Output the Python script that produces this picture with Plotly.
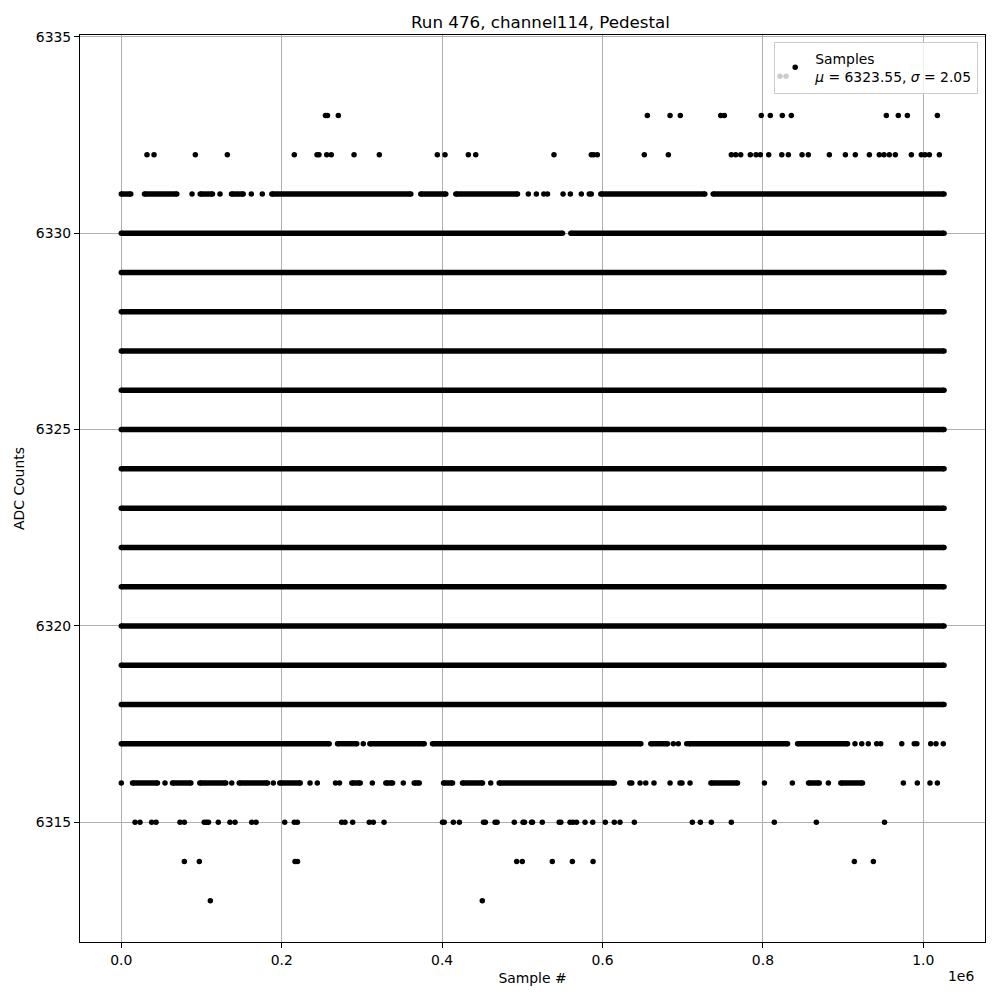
import plotly.graph_objects as go

# ---------------- data (sample index, ADC count) ----------------
N_LAST = 1025800          # last sample index
FULL_LEVELS = [6318, 6319, 6320, 6321, 6322, 6323, 6324, 6325, 6326, 6327, 6328, 6329]

# dense runs of samples: [first, last]
seg_6331 = [[0, 11800], [28900, 69200], [98400, 113700], [137400, 152000],
            [187700, 361000], [373400, 404600], [417100, 494000],
            [597900, 727600], [738000, N_LAST]]
seg_6330 = [[0, 550100], [560500, N_LAST]]
seg_6317 = [[0, 259200], [269600, 293600], [309900, 377700], [388000, 647800],
            [660200, 681100], [708100, 830700], [843200, 905500]]
seg_6316 = [[14000, 45100], [63800, 86700], [97900, 130300], [147000, 182300],
            [197600, 223100], [287400, 297900], [329800, 338200], [365200, 371500],
            [401800, 413000], [425400, 450400], [471200, 614600], [735100, 768300],
            [856900, 870200], [897100, 924200]]

# isolated samples
pts_6334 = [821300, 828800]
pts_6333 = [254600, 257100, 270600, 655900, 684200, 697000, 747400, 751900, 798000,
            809200, 824200, 835400, 953900, 968800, 980100, 1017500]
pts_6332 = [32000, 40800, 92300, 132200, 215700, 244000, 246500, 256100, 261800,
            290200, 321700, 394000, 403600, 432700, 441900, 539500, 586000, 589000,
            593500, 652100, 682100, 760600, 766100, 772300, 784300, 791400, 796800,
            807200, 823500, 831700, 848800, 856600, 882800, 902800, 915200, 932700,
            945100, 951000, 957600, 965100, 985100, 997500, 1002100, 1007500, 1020000]
pts_6331 = [88200, 123100, 162100, 175800, 507500, 517500, 526800, 531400, 550800,
            559900, 573600, 583500, 586000]
pts_6317 = [301700, 688300, 694500, 705000, 914800, 923200, 931400, 941900, 946900,
            973100, 988700, 991900, 1009200, 1015800, 1024900]
pts_6316 = [0, 54500, 137700, 189500, 235300, 244400, 267100, 272100, 313000, 351600,
            460600, 634000, 636500, 646800, 653900, 664200, 684200, 696600, 699100,
            709100, 801800, 836700, 881600, 975100, 992500, 1008300, 1017500]
pts_6315 = [17100, 23300, 37900, 43300, 73200, 78600, 103400, 106200, 108700, 120900,
            135500, 141800, 162600, 168000, 203700, 215700, 219500, 274800, 278900,
            288500, 309200, 314200, 327600, 400500, 402600, 414000, 421500, 451600,
            453900, 466000, 468500, 490000, 500900, 502700, 511500, 512700, 524900,
            546000, 548000, 559500, 563200, 567600, 578200, 587800, 603500, 614700,
            621800, 639700, 712000, 722000, 735700, 760600, 814200, 866600, 951600]
pts_6314 = [78600, 97300, 216600, 219700, 493000, 500000, 537400, 562400, 588200,
            914000, 937700]
pts_6313 = [111000, 450100]

MU, SIGMA = 6323.55, 2.05
X_TICKS = [0, 200000, 400000, 600000, 800000, 1000000]
X_TICKTEXT = ["0.0", "0.2", "0.4", "0.6", "0.8", "1.0"]
Y_TICKS = [6315, 6320, 6325, 6330, 6335]

# ---------------- build traces ----------------
segments = {lvl: [[0, N_LAST]] for lvl in FULL_LEVELS}
segments[6331] = seg_6331
segments[6330] = seg_6330
segments[6317] = seg_6317
segments[6316] = seg_6316

points = {6334: pts_6334, 6333: pts_6333, 6332: pts_6332, 6331: pts_6331,
          6317: pts_6317, 6316: pts_6316, 6315: pts_6315, 6314: pts_6314,
          6313: pts_6313}

MS = 5.5
seg_x, seg_y = [], []
for lvl, segs in segments.items():
    for a, b in segs:
        seg_x += [a, b, None]
        seg_y += [lvl, lvl, None]

px_, py_ = [], []
for lvl, xs in points.items():
    px_ += xs
    py_ += [lvl] * len(xs)

fig = go.Figure()
fig.add_trace(go.Scatter(x=seg_x, y=seg_y, mode="lines+markers",
                         line=dict(color="black", width=MS),
                         marker=dict(color="black", size=MS),
                         connectgaps=False, showlegend=False, hoverinfo="skip"))
fig.add_trace(go.Scatter(x=px_, y=py_, mode="markers",
                         marker=dict(color="black", size=MS),
                         name=f"Samples<br><i>μ</i> = {MU:.2f}, <i>σ</i> = {SIGMA:.2f}",
                         showlegend=True))

axis_common = dict(showline=True, linecolor="black", linewidth=1, mirror=True,
                   ticks="outside", ticklen=5, tickcolor="black", tickwidth=1,
                   showgrid=True, gridcolor="#b0b0b0", gridwidth=0.8,
                   zeroline=False, automargin=False,
                   tickfont=dict(size=13.9, color="black"))

fig.update_layout(
    width=1000, height=1000,
    margin=dict(l=72, r=23, t=27, b=66),
    paper_bgcolor="white", plot_bgcolor="white",
    font=dict(family="DejaVu Sans", size=13.9, color="black"),
    title=dict(text="Run 476, channel114, Pedestal", x=0.5325, xanchor="center",
               y=0.986, yanchor="middle", font=dict(size=16.7)),
    xaxis=dict(range=[-51500, 1076900], tickvals=X_TICKS, ticktext=X_TICKTEXT,
               title=dict(text="Sample #", standoff=6, font=dict(size=13.9)),
               **axis_common),
    yaxis=dict(range=[6311.95, 6335.05], tickvals=Y_TICKS,
               title=dict(text="ADC Counts", standoff=7, font=dict(size=13.9)),
               **axis_common),
    legend=dict(x=0.9925, y=0.9925, xanchor="right", yanchor="top",
                bgcolor="rgba(255,255,255,0.8)", bordercolor="#cccccc", borderwidth=1,
                font=dict(size=13.9), valign="middle"),
    showlegend=True,
    annotations=[dict(text="1e6", xref="paper", yref="paper", x=0.99, y=-0.026,
                      xanchor="right", yanchor="top", showarrow=False,
                      font=dict(size=13.9))],
)

fig.write_html("out.html")
